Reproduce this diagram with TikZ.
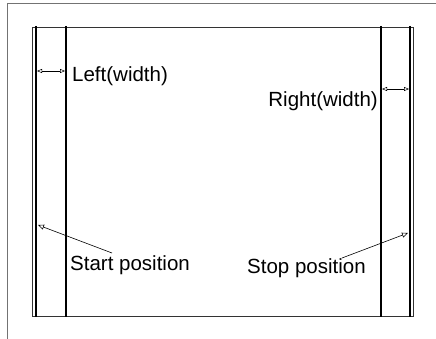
\documentclass[tikz,border=0pt]{standalone}
\usepackage{fontspec}
\setmainfont{Liberation Sans}
\usetikzlibrary{arrows.meta}
\begin{document}
\begin{tikzpicture}[x=1pt,y=-1pt,
  thinline/.style={line width=0.6pt,black!80},
  thickline/.style={line width=1.8pt,black},
  frameline/.style={line width=0.6pt,black!55},
  dimarrow/.style={line width=0.5pt,{Triangle[open,length=5pt,width=4pt]}-{Triangle[open,length=5pt,width=4pt]}},
  ptrarrow/.style={line width=0.6pt,-{Triangle[open,length=6pt,width=5pt]}},
  lbl/.style={inner sep=0pt,font=\fontsize{20.5}{24}\selectfont}]
\useasboundingbox (0,0) rectangle (436,339);
% outer frame
\draw[frameline] (7,339) -- (7,3) -- (436,3);
% inner rectangle
\draw[thinline] (32,27) rectangle (413,316);
% thick lines
\coordinate (l1t) at (36,26); \coordinate (l1b) at (36,317);
\coordinate (l2t) at (66,26); \coordinate (l2b) at (66,317);
\coordinate (r1t) at (381,26); \coordinate (r1b) at (381,317);
\coordinate (r2t) at (410,26); \coordinate (r2b) at (410,317);
\draw[thickline] (l1t) -- (l1b);
\draw[thickline] (l2t) -- (l2b);
\draw[thickline] (r1t) -- (r1b);
\draw[thickline] (r2t) -- (r2b);
% width arrows
\coordinate (la) at (37,71); \coordinate (lb) at (65,71);
\coordinate (ra) at (382,89); \coordinate (rb) at (409,89);
\draw[dimarrow] (la) -- (lb);
\draw[dimarrow] (ra) -- (rb);
% labels
\node[lbl,anchor=base west] (left) at (72,82) {Left(width)};
\node[lbl,anchor=base east] (right) at (378,107) {Right(width)};
\node[lbl,anchor=base west] (start) at (70,270) {Start position};
\node[lbl,anchor=base west] (stop) at (247,273) {Stop position};
% pointer arrows
\coordinate (starttail) at (112,253); \coordinate (starttip) at (38,225);
\coordinate (stoptail) at (342,258); \coordinate (stoptip) at (408,233);
\draw[ptrarrow] (starttail) -- (starttip);
\draw[ptrarrow] (stoptail) -- (stoptip);
\end{tikzpicture}
\end{document}
